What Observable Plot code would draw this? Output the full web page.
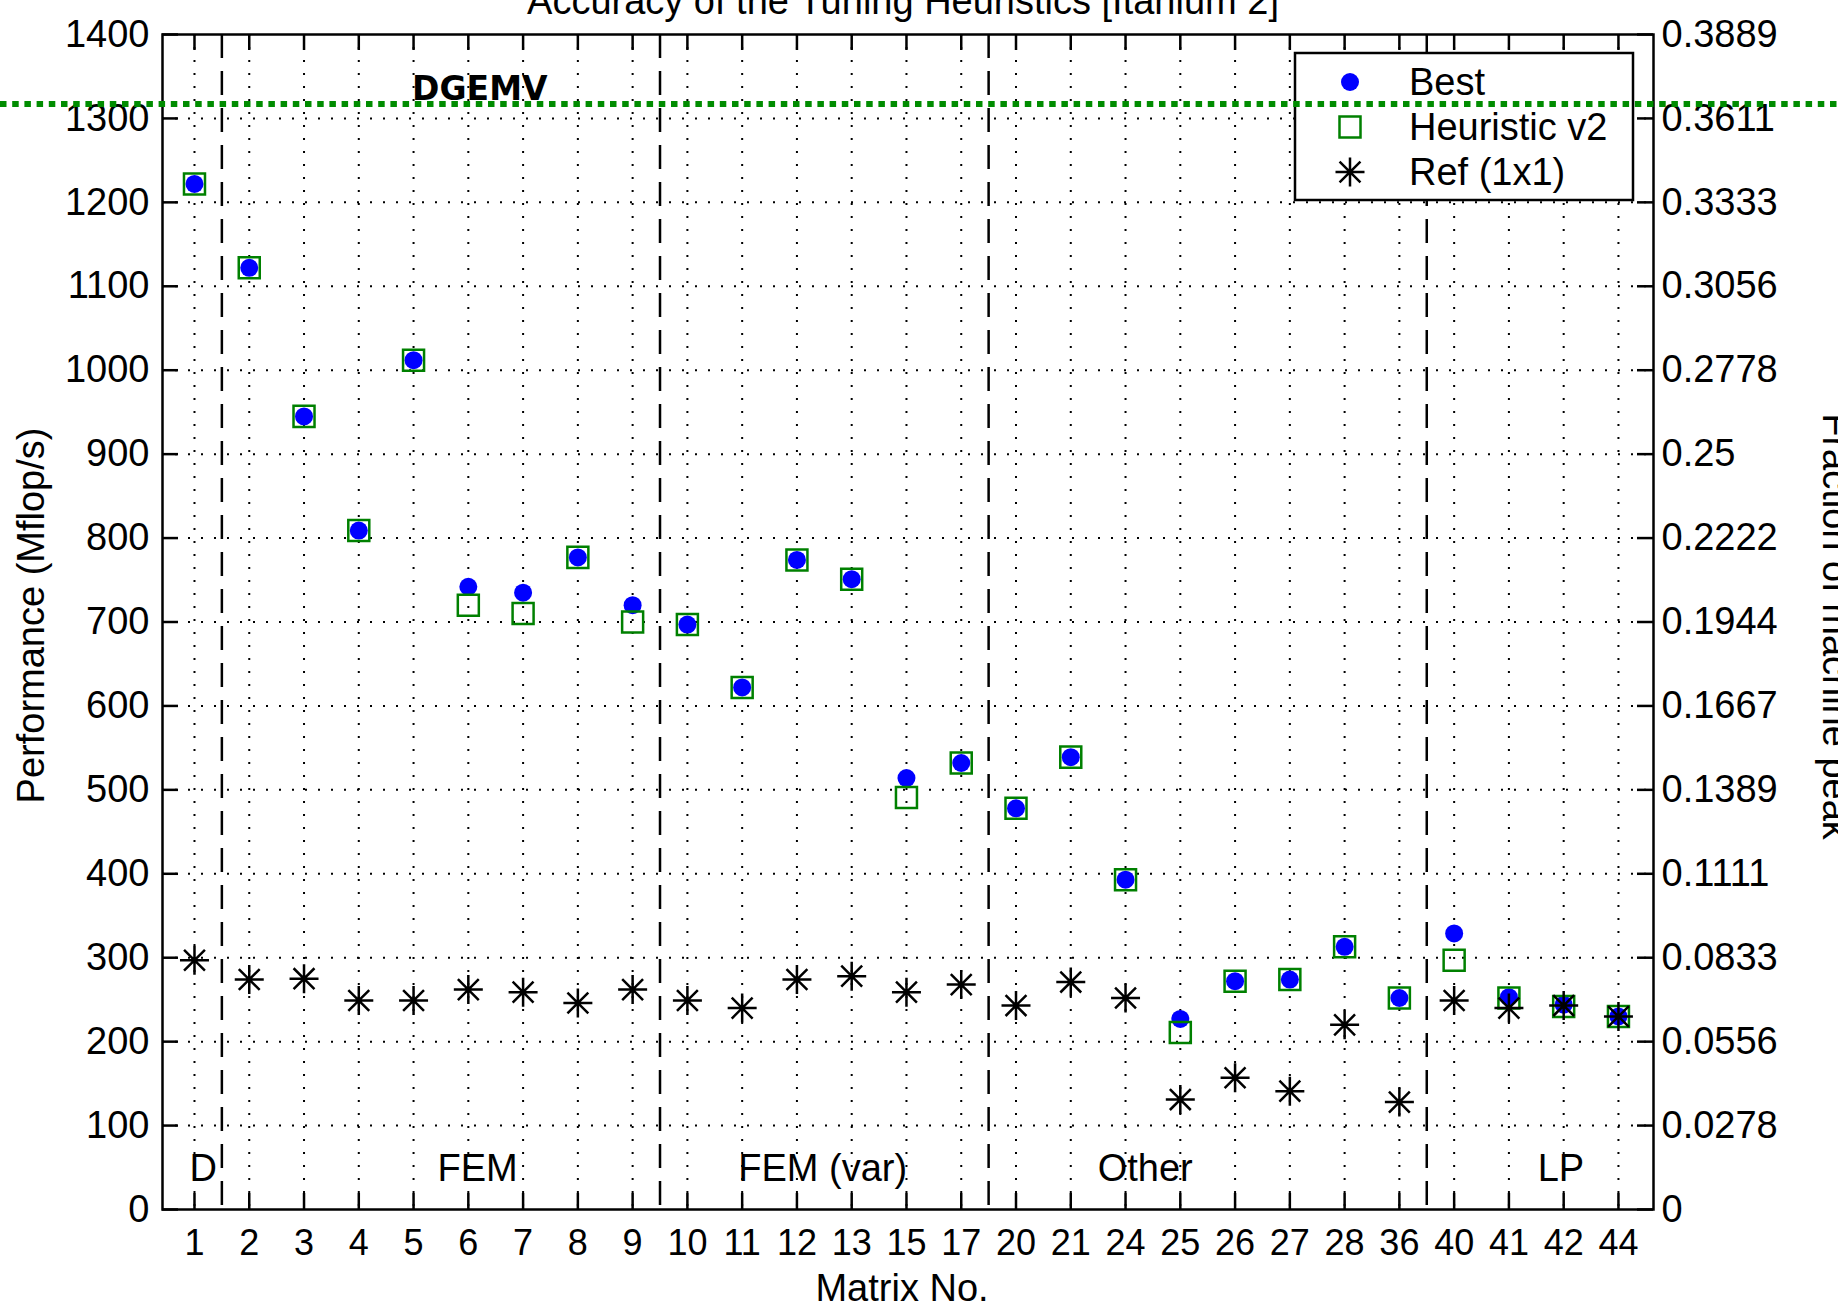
<!DOCTYPE html>
<html>
<head>
<meta charset="utf-8">
<script src="https://cdn.jsdelivr.net/npm/d3@7"></script>
<script src="https://cdn.jsdelivr.net/npm/@observablehq/plot@0.6"></script>
<style>
  html, body { margin: 0; padding: 0; background: #fff; }
  #chart { position: relative; width: 1838px; height: 1306px; overflow: hidden; }
</style>
</head>
<body>
<div id="chart"></div>
<script>
// ---------------- data ----------------
const categories = ["1","2","3","4","5","6","7","8","9","10","11","12","13","15","17","20","21","24","25","26","27","28","36","40","41","42","44"];
const best      = [1222,1122,945,809,1012,742,735,777,720,697,622,774,751,514,532,478,539,393,227,272,274,313,252,329,253,244,230];
const heuristic = [1222,1122,945,809,1012,720,710,777,700,697,622,774,751,491,532,478,539,393,211,272,274,313,252,297,252,242,230];
const ref       = [297,274,275,249,249,262,259,246,262,249,240,274,278,259,268,243,271,252,131,157,141,220,128,249,240,243,230];

const yTicks = [0,100,200,300,400,500,600,700,800,900,1000,1100,1200,1300,1400];
const leftTickLabels = ["0","100","200","300","400","500","600","700","800","900","1000","1100","1200","1300","1400"];
const rightTickLabels = ["0","0.0278","0.0556","0.0833","0.1111","0.1389","0.1667","0.1944","0.2222","0.25","0.2778","0.3056","0.3333","0.3611","0.3889"];

const groupNames   = ["D","FEM","FEM (var)","Other","LP"];
const groupLast    = ["1","9","17","36","44"];      // last matrix of each group
const groupLabelAt = [1.16, 6.17, 12.47, 18.36, 25.95]; // label position (matrix slot)
const groupLabelValue = 49;

const annotationText = "DGEMV";
const annotationAt = 6.21;
const annotationValue = 1334;
const markerLineValue = 1316.6;

const legendLabels = ["Best","Heuristic v2","Ref (1x1)"];
const titleText = "Accuracy of the Tuning Heuristics [Itanium 2]";
const xLabel = "Matrix No.";
const yLabel = "Performance (Mflop/s)";
const y2Label = "Fraction of machine peak";

// ---------------- layout ----------------
const W = 1838, H = 1306, mL = 162, mR = 185, mT = 34, mB = 97;
const frameW = W - mL - mR, frameH = H - mT - mB;
const TICK = 16;
const FONT = "'Liberation Sans', Arial, Helvetica, sans-serif";
const BLUE = "#0000ff", GREEN = "#008000";

const idx = categories.map((c, i) => i + 1);
const rows = categories.map((c, i) => ({i: i + 1, c, best: best[i], heur: heuristic[i], ref: ref[i]}));
const separators = groupLast.slice(0, -1).map(c => categories.indexOf(c) + 1.5);
const groupRows = groupNames.map((n, i) => ({name: n, at: groupLabelAt[i], v: groupLabelValue}));

const asterisk = {
  draw(ctx, size) {
    const r = Math.sqrt(size / Math.PI), d = r * 0.72;
    ctx.moveTo(-r, 0); ctx.lineTo(r, 0);
    ctx.moveTo(0, -r); ctx.lineTo(0, r);
    ctx.moveTo(-d, -d); ctx.lineTo(d, d);
    ctx.moveTo(-d, d); ctx.lineTo(d, -d);
  }
};

const txt = {textAnchor: "middle", lineAnchor: "middle", fontSize: 38};

const chart = Plot.plot({
  width: W, height: H,
  marginLeft: mL, marginRight: mR, marginTop: mT, marginBottom: mB,
  style: {fontFamily: FONT, fontSize: "38px", background: "#fff", color: "#000"},
  x: {type: "linear", domain: [0.416, 27.64]},
  y: {type: "linear", domain: [0, 1400]},
  marks: [
    // dotted grid
    Plot.ruleX(idx, {stroke: "#000", strokeWidth: 2, strokeDasharray: "2,11"}),
    Plot.ruleY(yTicks.slice(1, -1), {stroke: "#000", strokeWidth: 2, strokeDasharray: "2,11"}),
    // group separators
    Plot.ruleX(separators, {stroke: "#000", strokeWidth: 2.5, strokeDasharray: "24,13"}),
    // inward ticks on all four sides
    Plot.ruleX(idx, {stroke: "#000", strokeWidth: 2.5, insetTop: frameH - TICK}),
    Plot.ruleX(idx, {stroke: "#000", strokeWidth: 2.5, insetBottom: frameH - TICK}),
    Plot.ruleY(yTicks, {stroke: "#000", strokeWidth: 2.5, insetRight: frameW - TICK}),
    Plot.ruleY(yTicks, {stroke: "#000", strokeWidth: 2.5, insetLeft: frameW - TICK}),
    Plot.frame({stroke: "#000", strokeWidth: 2.5}),
    // axes (labels only)
    Plot.axisX({ticks: idx, tickFormat: i => categories[i - 1], tickSize: 0, tickPadding: 20, label: null, fontSize: 36}),
    Plot.axisY({anchor: "left", ticks: yTicks, tickSize: 0, tickPadding: 13, label: null,
      tickFormat: d => leftTickLabels[yTicks.indexOf(d)]}),
    Plot.axisY({anchor: "right", ticks: yTicks, tickSize: 0, tickPadding: 8, label: null,
      tickFormat: d => rightTickLabels[yTicks.indexOf(d)]}),
    // group labels
    Plot.text(groupRows, {x: "at", y: "v", text: "name", ...txt}),
    // data
    Plot.dot(rows, {x: "i", y: "best", r: 9, symbol: "circle", fill: BLUE}),
    Plot.dot(rows, {x: "i", y: "heur", r: 11.85, symbol: "square", fill: "none", stroke: GREEN, strokeWidth: 2.5}),
    Plot.dot(rows, {x: "i", y: "ref", r: 14.5, symbol: asterisk, fill: "none", stroke: "#000", strokeWidth: 2.5}),
    // annotation
    Plot.text([annotationText], {x: () => annotationAt, y: () => annotationValue, text: d => d,
      textAnchor: "middle", lineAnchor: "middle",
      fontFamily: "'DejaVu Sans', Verdana, sans-serif", fontWeight: "bold", fontSize: 33}),
    // titles
    Plot.text([titleText], {text: d => d, frameAnchor: "top", dx: -5, dy: -33, ...txt}),
    Plot.text([xLabel], {text: d => d, frameAnchor: "bottom", dx: -6, dy: 79, ...txt}),
    Plot.text([yLabel], {text: d => d, frameAnchor: "left", rotate: -90, dx: -131, dy: -6.5, ...txt}),
    Plot.text([y2Label], {text: d => d, frameAnchor: "right", rotate: 90, dx: 182, dy: 4.5, ...txt})
  ]
});

document.getElementById("chart").appendChild(chart);

// ---------------- legend (inside the frame, top-right) ----------------
const svg = d3.select(chart);
const lgW = 338, lgH = 147, lgX = mL + frameW - 20 - lgW, lgY = mT + 19;
const lg = svg.append("g").attr("text-anchor", "start");
lg.append("rect").attr("x", lgX).attr("y", lgY).attr("width", lgW).attr("height", lgH)
  .attr("fill", "#fff").attr("stroke", "#000").attr("stroke-width", 2.5);
const rowY = k => lgY + 29 + k * 45;
const mx = lgX + 55, tx = lgX + 114;
lg.append("circle").attr("cx", mx).attr("cy", rowY(0)).attr("r", 9).attr("fill", BLUE);
lg.append("path").attr("d", d3.symbol(d3.symbolSquare, 11.85 * 11.85 * Math.PI)())
  .attr("transform", `translate(${mx},${rowY(1)})`).attr("fill", "none").attr("stroke", GREEN).attr("stroke-width", 2.5);
lg.append("path").attr("d", d3.symbol(asterisk, 14.5 * 14.5 * Math.PI)())
  .attr("transform", `translate(${mx},${rowY(2)})`).attr("fill", "none").attr("stroke", "#000").attr("stroke-width", 2.5);
legendLabels.forEach((t, k) => {
  lg.append("text").attr("x", tx).attr("y", rowY(k)).attr("dy", "0.35em")
    .attr("text-anchor", "start")
    .attr("font-family", FONT).attr("font-size", 38).attr("fill", "#000").text(t);
});

// ---------------- green dotted marker line across the whole figure ----------------
const yLine = chart.scale("y").apply(markerLineValue);
svg.append("line").attr("x1", 0).attr("x2", W).attr("y1", yLine).attr("y2", yLine)
  .attr("stroke", "#008c00").attr("stroke-width", 6).attr("stroke-dasharray", "6.5,5.7");
</script>
</body>
</html>
